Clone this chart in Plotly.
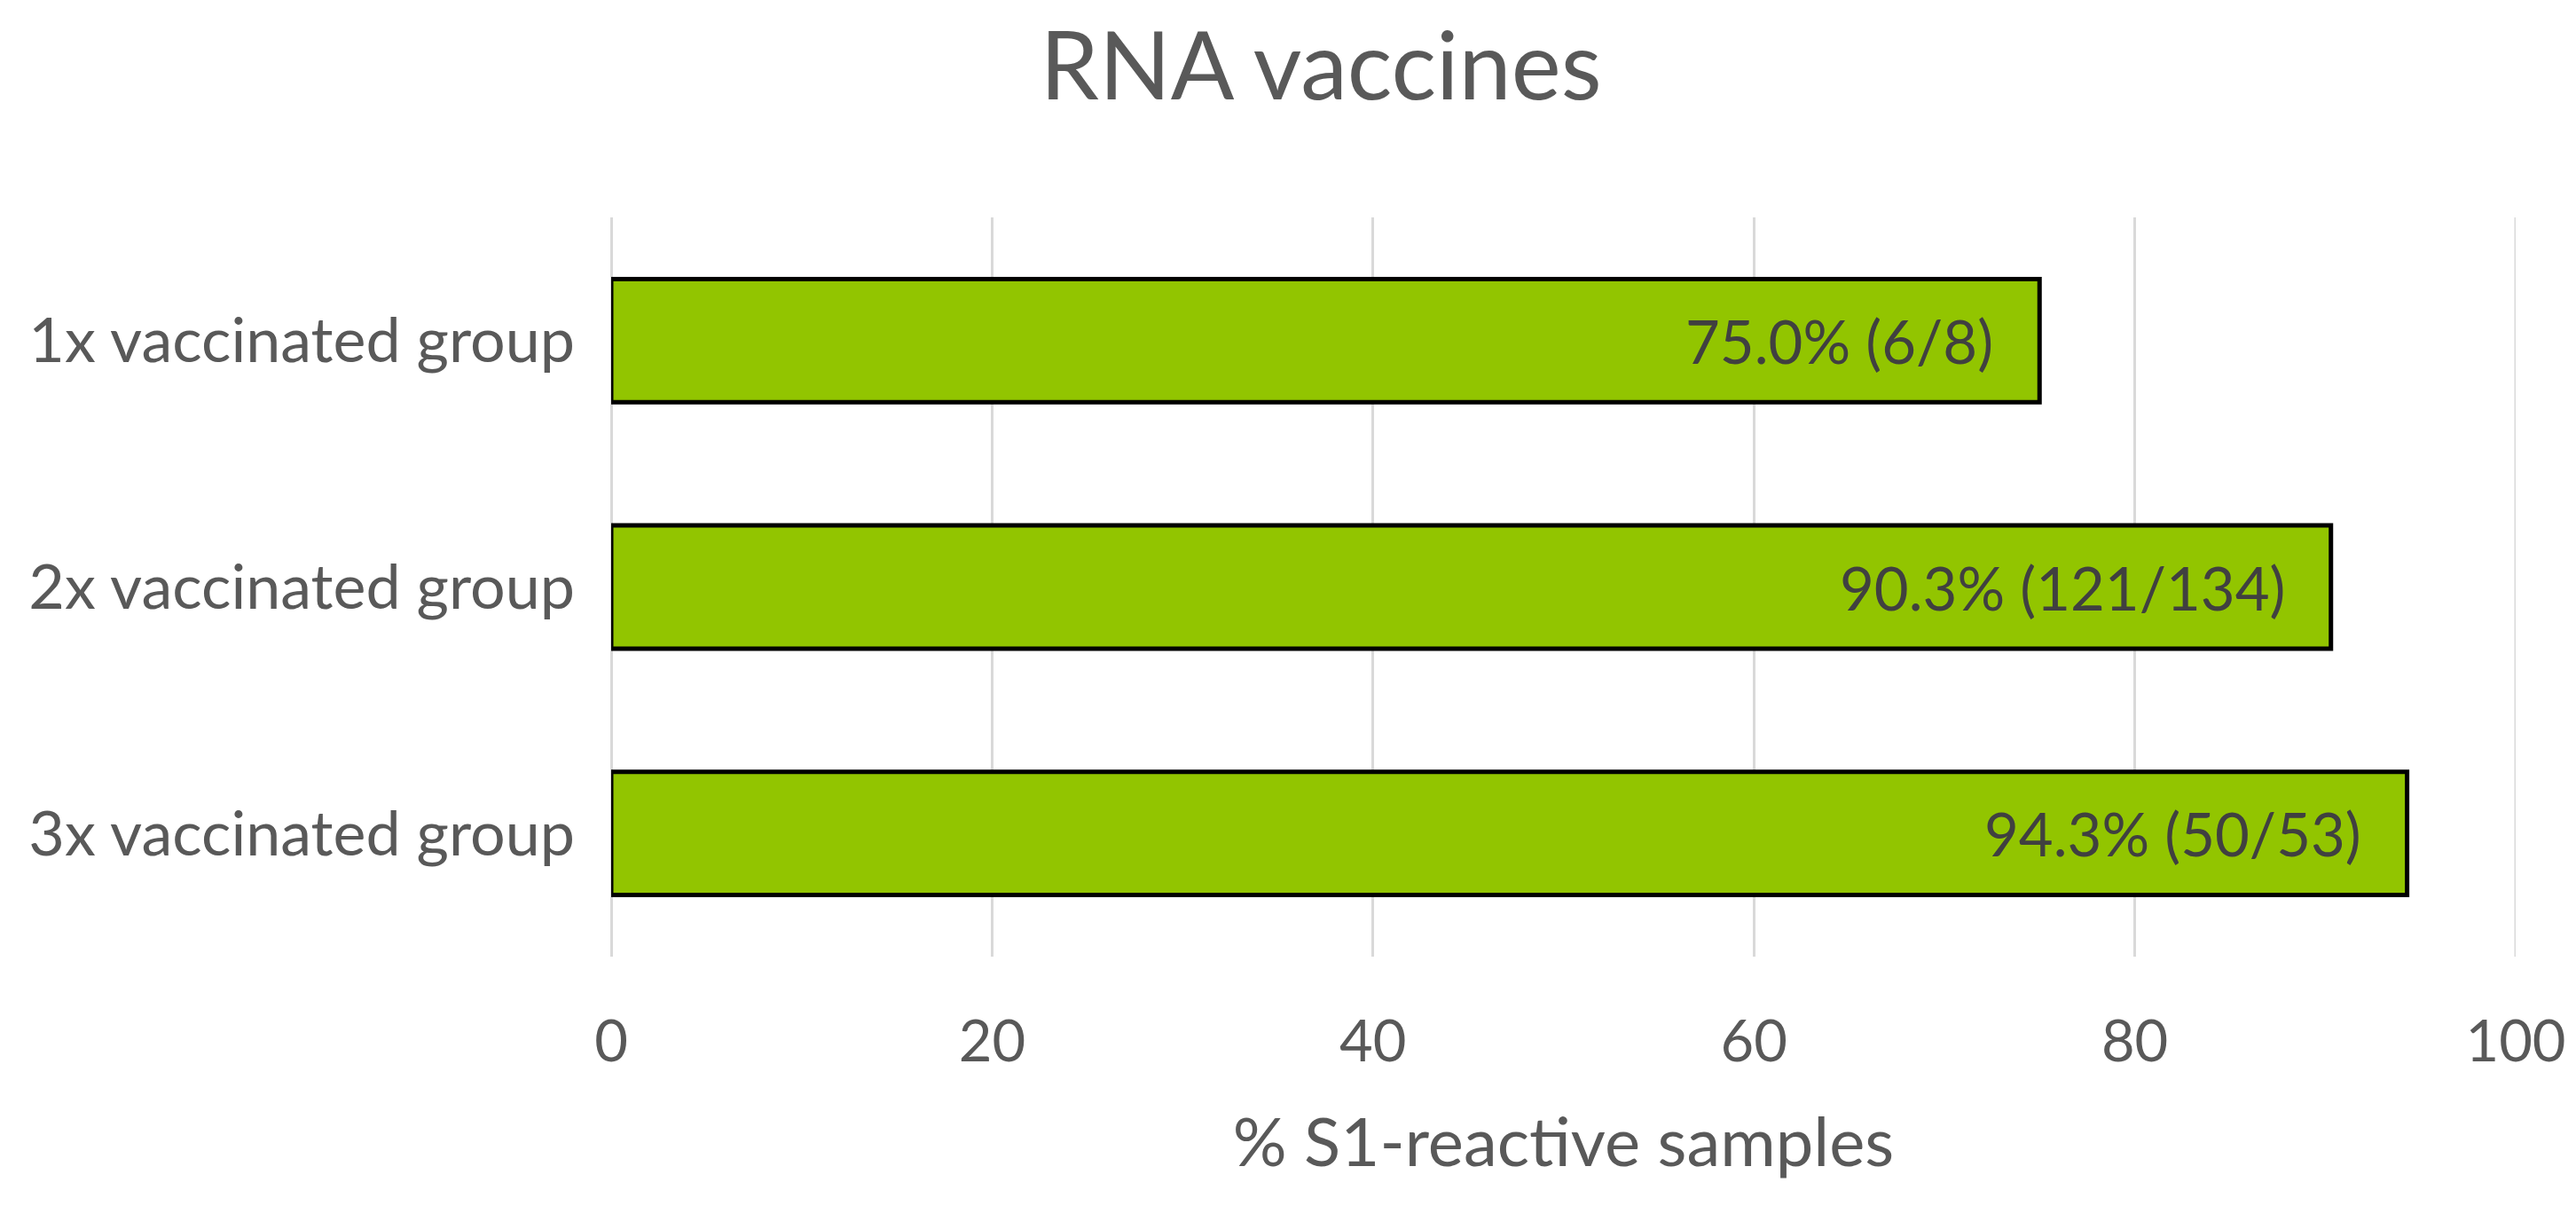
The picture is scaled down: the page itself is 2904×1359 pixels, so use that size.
import plotly.graph_objects as go

categories = ["1x vaccinated group", "2x vaccinated group", "3x vaccinated group"]
values = [75.0, 90.3, 94.3]
labels = ["75.0% (6/8)", "90.3% (121/134)", "94.3% (50/53)"]
x_ticks = [0, 20, 40, 60, 80, 100]

FONT = "Lato"
GREY = "#595959"
GRID = "#D9D9D9"

fig = go.Figure()
fig.add_trace(go.Bar(
    x=values, y=categories, orientation="h",
    marker=dict(color="#92C500", line=dict(color="#000000", width=5)),
    width=0.5, hoverinfo="skip",
))

for v, c, t in zip(values, categories, labels):
    fig.add_annotation(x=v, y=c, text=t, showarrow=False, xanchor="right",
                       xshift=-50, font=dict(family=FONT, size=67, color="#404040"))

# gridline at the right edge of the range
fig.add_shape(type="line", xref="x", yref="paper", x0=x_ticks[-1], x1=x_ticks[-1], y0=0, y1=1,
              line=dict(color=GRID, width=3), layer="below")

fig.update_layout(
    width=2904, height=1359,
    margin=dict(l=681, r=76, t=237, b=289),
    plot_bgcolor="white", paper_bgcolor="white",
    showlegend=False,
    title=dict(text="RNA vaccines", x=0.51, xanchor="center", y=1 - 67 / 1359, yanchor="middle",
               font=dict(family=FONT, size=106, color=GREY)),
    xaxis=dict(range=[0, 100], tickvals=x_ticks, showgrid=True, gridcolor=GRID, gridwidth=3,
               zeroline=True, zerolinecolor=GRID, zerolinewidth=3, showline=False, ticks="",
               ticklabelstandoff=52, layer="below traces",
               tickfont=dict(family=FONT, size=65, color=GREY),
               title=dict(text="% S1-reactive samples", standoff=51,
                          font=dict(family=FONT, size=76, color=GREY))),
    yaxis=dict(autorange="reversed", showgrid=False, zeroline=False, showline=False, ticks="",
               ticklabelstandoff=40, tickfont=dict(family=FONT, size=70, color=GREY)),
)

fig.write_html("out.html")
